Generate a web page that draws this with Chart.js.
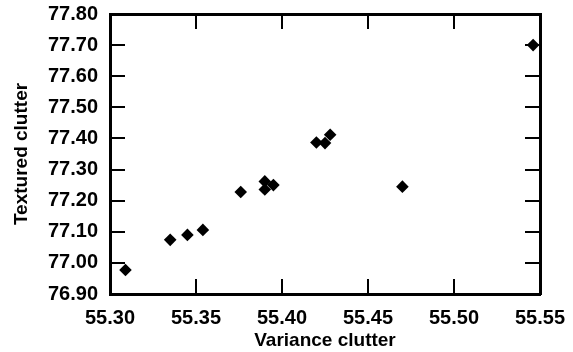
<!DOCTYPE html>
<html>
<head>
<meta charset="utf-8">
<script src="https://cdn.jsdelivr.net/npm/chart.js@4/dist/chart.umd.min.js"></script>
<style>
html,body{margin:0;padding:0;background:#fff;}
#wrap{width:573px;height:352px;}
</style>
</head>
<body>
<div id="wrap"><canvas id="c" width="573" height="352"></canvas></div>
<script>
const varianceClutter = [55.309, 55.335, 55.345, 55.354, 55.376, 55.390, 55.390, 55.395, 55.420, 55.425, 55.428, 55.470, 55.546];
const texturedClutter = [76.977, 77.074, 77.090, 77.106, 77.228, 77.262, 77.236, 77.250, 77.387, 77.385, 77.412, 77.245, 77.700];
const xTickLabels = ['55.30', '55.35', '55.40', '55.45', '55.50', '55.55'];
const yTickLabels = ['76.90', '77.00', '77.10', '77.20', '77.30', '77.40', '77.50', '77.60', '77.70', '77.80'];

const points = varianceClutter.map((x, i) => ({x: x, y: texturedClutter[i]}));
const FONT = '"Liberation Sans", Arial, Helvetica, sans-serif';
const xMin = parseFloat(xTickLabels[0]), xMax = parseFloat(xTickLabels[xTickLabels.length - 1]);
const yMin = parseFloat(yTickLabels[0]), yMax = parseFloat(yTickLabels[yTickLabels.length - 1]);

function labelFor(list) {
  return (v) => list.find(l => Math.abs(parseFloat(l) - v) < 1e-6) || '';
}
function frameGrid() {
  return {display: true, drawOnChartArea: false, drawTicks: true, tickLength: -15,
          tickWidth: 2, tickColor: '#000000', color: '#000000', lineWidth: 2};
}
function frameBorder() {
  return {display: true, color: '#000000', width: 3, dash: []};
}

new Chart(document.getElementById('c'), {
  type: 'scatter',
  data: {
    datasets: [{
      data: points,
      xAxisID: 'x',
      yAxisID: 'y',
      pointStyle: 'rectRot',
      pointRadius: 6.3,
      pointHoverRadius: 6.3,
      backgroundColor: '#000000',
      borderColor: '#000000',
      borderWidth: 0,
      clip: false
    }]
  },
  options: {
    responsive: false,
    animation: false,
    events: [],
    layout: {padding: {top: 14, right: 33, left: 0, bottom: 0}},
    plugins: {legend: {display: false}, tooltip: {enabled: false}},
    scales: {
      x: {
        type: 'linear', position: 'bottom',
        min: xMin, max: xMax,
        afterBuildTicks(s) { s.ticks = xTickLabels.map(v => ({value: parseFloat(v)})); },
        afterFit(s) { s.height = 58; s.paddingLeft = 0; s.paddingRight = 0; },
        grid: frameGrid(),
        border: frameBorder(),
        ticks: {
          color: '#000', padding: 27, maxRotation: 0, autoSkip: false,
          font: {family: FONT, size: 20, weight: 'bold'},
          callback: labelFor(xTickLabels)
        },
        title: {display: true, text: 'Variance clutter', color: '#000',
          font: {family: FONT, size: 19, weight: 'bold'}, padding: {top: 0, bottom: 0}}
      },
      x2: {
        type: 'linear', position: 'top',
        min: xMin, max: xMax,
        afterBuildTicks(s) { s.ticks = xTickLabels.map(v => ({value: parseFloat(v)})); },
        afterFit(s) { s.height = 0; s.paddingLeft = 0; s.paddingRight = 0; },
        grid: frameGrid(),
        border: frameBorder(),
        ticks: {display: false}
      },
      y: {
        type: 'linear', position: 'left',
        min: yMin, max: yMax,
        afterBuildTicks(s) { s.ticks = yTickLabels.map(v => ({value: parseFloat(v)})); },
        afterFit(s) { s.width = 110; s.paddingTop = 0; s.paddingBottom = 0; },
        grid: frameGrid(),
        border: frameBorder(),
        ticks: {
          color: '#000', padding: 27, autoSkip: false,
          font: {family: FONT, size: 20, weight: 'bold'},
          callback: labelFor(yTickLabels)
        },
        title: {display: true, text: 'Textured clutter', color: '#000',
          font: {family: FONT, size: 19, weight: 'bold'}, padding: {top: 10, bottom: 0}}
      },
      y2: {
        type: 'linear', position: 'right',
        min: yMin, max: yMax,
        afterBuildTicks(s) { s.ticks = yTickLabels.map(v => ({value: parseFloat(v)})); },
        afterFit(s) { s.width = 0; s.paddingTop = 0; s.paddingBottom = 0; },
        grid: frameGrid(),
        border: frameBorder(),
        ticks: {display: false}
      }
    }
  }
});
</script>
</body>
</html>
